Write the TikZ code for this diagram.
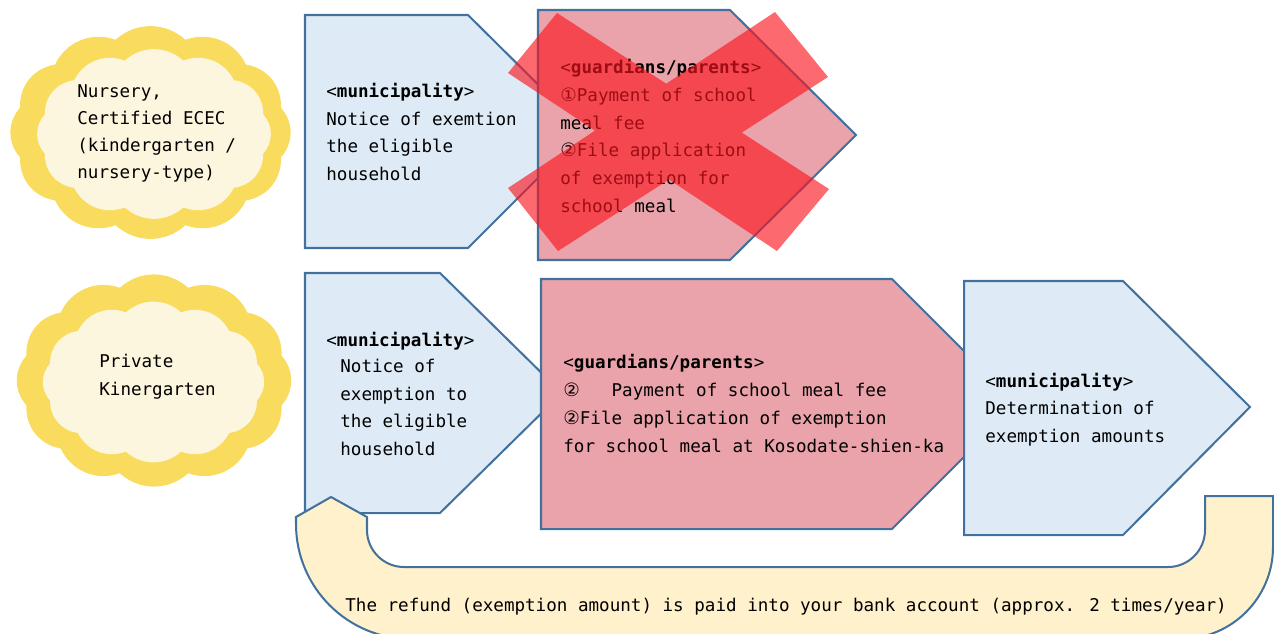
\documentclass[tikz,border=0pt]{standalone}
\usepackage{fontspec}
\newfontfamily\monof{DejaVu Sans Mono}
\newfontfamily\symf{DejaVu Sans}
\definecolor{bd}{HTML}{41719C}
\definecolor{bluef}{HTML}{DEEBF7}
\definecolor{pinkf}{HTML}{EAA3AA}
\definecolor{ufill}{HTML}{FFF1CC}
\definecolor{cloudo}{HTML}{F9DC5E}
\definecolor{cloudi}{HTML}{FDF6DE}
\definecolor{xred}{HTML}{FA141E}
\tikzset{
  box/.style={draw=bd, line width=1.15pt, line join=miter},
  tl/.style={anchor=base west, inner sep=0pt, font=\monof\fontsize{10}{12}\selectfont},
}
\newcommand\cn[1]{{\symf\fontsize{10.5}{12}\selectfont #1}}
% \scallop{cx}{cy}{a}{b}{N}{colour}: scalloped ellipse, puffs centred on the axes
\newcommand\scallop[6]{%
  \fill[#6] ({#1+#3*cos(180/#5)},{#2+#4*sin(180/#5)})
    \foreach \k in {1,...,#5} { to[bend left=42] ({#1+#3*cos(360*\k/#5+180/#5)},{#2+#4*sin(360*\k/#5+180/#5)}) } -- cycle;}
\begin{document}
\begin{tikzpicture}[x=0.02cm,y=-0.02cm]
\useasboundingbox (0,0) rectangle (1274,633);
\begin{scope}
\clip (0,0) rectangle (1274,633);

% clouds
\scallop{150.5}{132.5}{135}{96}{12}{cloudo}
\scallop{154}{134}{113}{76}{12}{cloudi}
\scallop{154}{380.5}{132}{96}{12}{cloudo}
\scallop{153.5}{382}{107}{72}{12}{cloudi}

\node[tl] (c1a) at (77,97) {Nursery,};
\node[tl] (c1b) at (77,124) {Certified ECEC};
\node[tl] (c1c) at (77,151) {(kindergarten /};
\begin{scope}
\clip (60,150) rectangle (290,181);
\node[tl] (c1d) at (77,178) {nursery-type)};
\end{scope}
\node[tl] (c2a) at (99,367) {Private};
\node[tl] (c2b) at (99,395) {Kinergarten};

% top row
\draw[box, fill=bluef] (305,15) -- (468,15) -- (585,131) -- (468,248) -- (305,248) -- cycle;
\draw[box, fill=pinkf] (538,10) -- (730,10) -- (856,135) -- (730,260) -- (538,260) -- cycle;

\node[tl] (t1a) at (326,97) {<\textbf{municipality}>};
\node[tl] (t1b) at (326,125) {Notice of exemtion};
\node[tl] (t1c) at (326,152) {the eligible};
\node[tl] (t1d) at (326,180) {household};

\node[tl] (t2a) at (560,73) {<\textbf{guardians/parents}>};
\node[tl] (t2b) at (560,101) {\cn{①}Payment of school};
\node[tl] (t2c) at (560,129) {meal fee};
\node[tl] (t2d) at (560,156) {\cn{②}File application};
\node[tl] (t2e) at (560,184) {of exemption for};
\node[tl] (t2f) at (560,212) {school meal};

% red cross
\fill[xred, fill opacity=0.64]
  (557,13) -- (829,189) -- (777,251) -- (508,73) -- cycle
  (775,12) -- (828,77) -- (558,251) -- (508,188) -- cycle;

% bottom row
\draw[box, fill=bluef] (305,273) -- (440,273) -- (562,393) -- (440,513) -- (305,513) -- cycle;
\draw[box, fill=pinkf] (541,279) -- (892,279) -- (1017,404) -- (892,529) -- (541,529) -- cycle;
\draw[box, fill=bluef] (964,281) -- (1123,281) -- (1250,407) -- (1123,535) -- (964,535) -- cycle;

\node[tl] (b1a) at (326,346) {<\textbf{municipality}>};
\node[tl] (b1b) at (340,372) {Notice of};
\node[tl] (b1c) at (340,400) {exemption to};
\node[tl] (b1d) at (340,427) {the eligible};
\node[tl] (b1e) at (340,455) {household};

\node[tl] (b2a) at (563,368) {<\textbf{guardians/parents}>};
\node[tl] (b2b) at (563,396) {\cn{②}\ \ \ Payment of school meal fee};
\node[tl] (b2c) at (563,424) {\cn{②}File application of exemption};
\node[tl] (b2d) at (563,452) {for school meal at Kosodate-shien-ka};

\node[tl] (b3a) at (985,387) {<\textbf{municipality}>};
\node[tl] (b3b) at (985,414) {Determination of};
\node[tl] (b3c) at (985,442) {exemption amounts};

% U-turn arrow
\draw[box, fill=ufill] (331,497) -- (367,517) -- (367,530)
  .. controls (367,550.4) and (383.6,567) .. (404,567) -- (1168,567)
  .. controls (1188.4,567) and (1205,550.4) .. (1205,530) -- (1205,496) -- (1273,496) -- (1273,547)
  .. controls (1273,597.8) and (1231.8,639) .. (1181,639) -- (411,639)
  .. controls (347.5,639) and (296,587.5) .. (296,524) -- (296,517) -- cycle;
\node[tl] (ut) at (345,611) {The refund (exemption amount) is paid into your bank account (approx. 2 times/year)};
\end{scope}
\end{tikzpicture}
\end{document}
